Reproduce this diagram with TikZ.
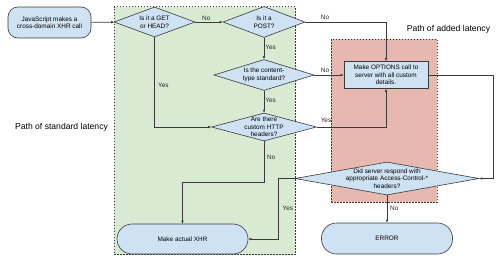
\documentclass[tikz,border=0pt]{standalone}
\usepackage{fontspec}
\setmainfont{Liberation Sans}
\usetikzlibrary{shapes.geometric,arrows.meta}
\definecolor{zgreen}{HTML}{D9EAD3}
\definecolor{zred}{HTML}{E6B8AF}
\definecolor{nblue}{HTML}{CFE2F3}
\definecolor{ln}{HTML}{3A3A3A}
\begin{document}
\begin{tikzpicture}[x=1pt,y=-1pt,
  small/.style={font=\fontsize{6.4}{7.5}\selectfont},
  box/.style={draw=ln, fill=nblue, line width=0.6pt, align=center, small, inner sep=0pt},
  dia/.style={box, diamond},
  lab/.style={small, inner sep=1pt, text=black!85},
  arr/.style={draw=ln, line width=0.7pt, -{Latex[length=3pt,width=2.6pt]}},
  zone/.style={draw=ln, line width=0.5pt, dash pattern=on 1.5pt off 1.5pt, inner sep=0pt},
  big/.style={font=\fontsize{8.6}{10}\selectfont, inner sep=0pt},
  every label/.style={small, align=center, inner sep=0pt}]
\useasboundingbox (0,0) rectangle (500,263);
% zones
\node[zone, fill=zgreen, minimum width=181pt, minimum height=248pt] (gz) at (204.5,130.5) {};
\node[zone, fill=zred, minimum width=106pt, minimum height=163pt] (rz) at (384,120.5) {};
\node[big] (t1) at (61.5,127) {Path of standard latency};
\node[big] (t2) at (448.5,29) {Path of added latency};
% nodes
\node[box, rounded corners=10pt, minimum width=83pt, minimum height=31pt] (start) at (49.5,22.5) {JavaScript makes a\\cross-domain XHR call};
\node[dia, minimum width=81pt, minimum height=30pt, label={center:Is it a GET\\or HEAD?}] (d1) at (154.5,22) {};
\node[dia, minimum width=82pt, minimum height=31pt, label={center:Is it a\\POST?}] (d2) at (264,22) {};
\node[dia, minimum width=100pt, minimum height=31pt, label={center:Is the content-\\type standard?}] (d3) at (264,75) {};
\node[dia, minimum width=105pt, minimum height=28pt, label={center:Are there\\custom HTTP\\headers?}] (d4) at (264,127) {};
\node[box, minimum width=84pt, minimum height=27pt] (opt) at (386,75) {Make OPTIONS call to\\server with all custom\\details.};
\node[dia, minimum width=184pt, minimum height=33pt, label={center:Did server respond with\\appropriate Access-Control-*\\headers?}] (d5) at (387,178.5) {};
\node[box, rounded corners=15pt, minimum width=131pt, minimum height=30pt] (xhr) at (182.5,239) {Make actual XHR};
\node[box, rounded corners=15pt, minimum width=131pt, minimum height=31pt] (err) at (387,238.5) {ERROR};
% connectors
\draw[arr] (start) -- (d1);
\draw[arr] (d1) -- node[lab, above, pos=0.4] (l1) {No} (d2);
\draw[arr] (d2.east) -| (opt.north);
\node[lab] (l2) at (325,17) {No};
\draw[arr] (d2) -- node[lab, right, pos=0.45] (l3) {Yes} (d3);
\draw[arr] (d3) -- (opt);
\node[lab] (l4) at (325,70) {No};
\draw[arr] (d3) -- node[lab, right, pos=0.45] (l5) {Yes} (d4);
\draw[arr] (d1.south) |- (d4.west);
\node[lab, anchor=west] (l6) at (157,85) {Yes};
\draw[arr] (d4.east) -| (opt.south);
\node[lab] (l7) at (326,120.5) {Yes};
\coordinate (b4) at (264,182);
\draw[arr] (d4.south) -- (b4) -| (xhr.north);
\node[lab, anchor=west] (l8) at (266,157) {No};
\draw[arr] (opt.east) -- ++(65.5,0) |- (d5.east);
\draw[arr] (d5.west) -- ++(-16,0) |- (xhr.east);
\node[lab, anchor=west] (l9) at (281.5,208) {Yes};
\draw[arr] (d5) -- (err);
\node[lab, anchor=west] (l10) at (389,208) {No};
\end{tikzpicture}
\end{document}
